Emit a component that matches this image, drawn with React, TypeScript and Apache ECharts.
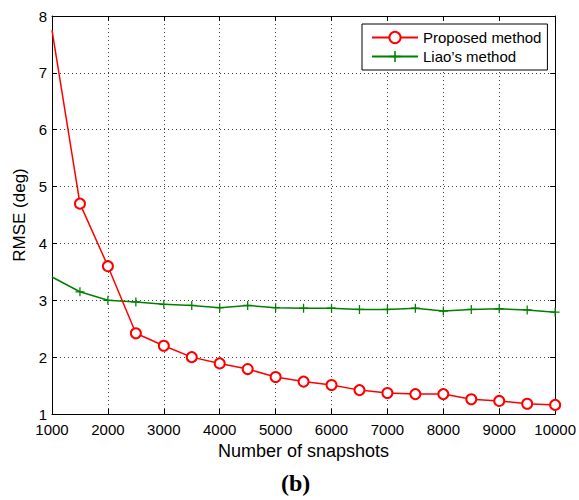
import React, { useEffect, useRef } from "react";
import * as echarts from "echarts";

const snapshots = [1000, 1500, 2000, 2500, 3000, 3500, 4000, 4500, 5000, 5500, 6000, 6500, 7000, 7500, 8000, 8500, 9000, 9500, 10000];
const proposed = [7.75, 4.7, 3.6, 2.42, 2.2, 2.0, 1.89, 1.79, 1.65, 1.57, 1.51, 1.42, 1.37, 1.35, 1.35, 1.26, 1.23, 1.18, 1.16];
const liao = [3.41, 3.15, 3.0, 2.97, 2.93, 2.91, 2.87, 2.91, 2.87, 2.86, 2.86, 2.84, 2.84, 2.86, 2.81, 2.84, 2.85, 2.83, 2.79];
const seriesNames = ["Proposed method", "Liao\u2019s method"];
const xName = "Number of snapshots";
const yName = "RMSE (deg)";
const caption = "(b)";

const FONT = "'Liberation Sans', Arial, Helvetica, sans-serif";
const PLUS = "path://M0,4.3H4.3V0H5.7V4.3H10V5.7H5.7V10H4.3V5.7H0Z";

function toData(vals: number[]) {
  return vals.map((v, i) =>
    i === 0 ? { value: [snapshots[i], v], symbol: "none" } : { value: [snapshots[i], v] }
  );
}

export default function App() {
  const ref = useRef<HTMLDivElement>(null);
  useEffect(() => {
    const chart = echarts.init(ref.current!, null, { renderer: "svg" });
    const axisLine = { show: true, lineStyle: { color: "#000", width: 1 } };
    const tickIn = { show: true, inside: true, length: 5, lineStyle: { color: "#000" } };
    const split = { show: true, lineStyle: { color: "#444", width: 1, type: [1, 3] } };
    chart.setOption({
      animation: false,
      backgroundColor: "#fff",
      textStyle: { fontFamily: FONT },
      grid: { left: 52, right: 22, top: 16, bottom: 86, containLabel: false },
      legend: {
        data: seriesNames,
        orient: "vertical",
        left: 362,
        top: 24,
        padding: [6, 6, 6, 9],
        itemWidth: 46,
        itemHeight: 14,
        itemGap: 4,
        backgroundColor: "#fff",
        borderColor: "#000",
        borderWidth: 1,
        borderRadius: 0,
        textStyle: { fontSize: 15, color: "#000", fontFamily: FONT, padding: [0, 0, 0, 0] },
      },
      xAxis: [
        {
          type: "value",
          min: 1000,
          max: 10000,
          interval: 1000,
          axisLine,
          axisTick: tickIn,
          splitLine: split,
          axisLabel: {
            color: "#000",
            fontSize: 15,
            fontFamily: FONT,
            margin: 8,
            formatter: (v: number) => String(v),
          },
          name: xName,
          nameLocation: "middle",
          nameGap: 27,
          nameTextStyle: { color: "#000", fontSize: 18, fontFamily: FONT },
        },
        {
          type: "value",
          position: "top",
          min: 1000,
          max: 10000,
          interval: 1000,
          axisLine,
          axisTick: tickIn,
          splitLine: { show: false },
          axisLabel: { show: false },
        },
      ],
      yAxis: [
        {
          type: "value",
          min: 1,
          max: 8,
          interval: 1,
          axisLine,
          axisTick: tickIn,
          splitLine: split,
          axisLabel: { color: "#000", fontSize: 15, fontFamily: FONT, margin: 5 },
          name: yName,
          nameLocation: "middle",
          nameGap: 22,
          nameTextStyle: { color: "#000", fontSize: 17, fontFamily: FONT },
        },
        {
          type: "value",
          position: "right",
          min: 1,
          max: 8,
          interval: 1,
          axisLine,
          axisTick: tickIn,
          splitLine: { show: false },
          axisLabel: { show: false },
        },
      ],
      series: [
        {
          name: seriesNames[0],
          type: "line",
          data: toData(proposed),
          symbol: "emptyCircle",
          symbolSize: 10,
          showAllSymbol: true,
          clip: false,
          lineStyle: { color: "#ff0000", width: 1.5 },
          itemStyle: { color: "#ff0000", borderColor: "#ff0000", borderWidth: 1.5 },
          z: 3,
        },
        {
          name: seriesNames[1],
          type: "line",
          data: toData(liao),
          symbol: PLUS,
          symbolSize: 9,
          showAllSymbol: true,
          clip: false,
          lineStyle: { color: "#008000", width: 1.5 },
          itemStyle: { color: "#008000", borderWidth: 0 },
          z: 2,
        },
      ],
      graphic: [
        {
          type: "text",
          left: 281,
          top: 471,
          style: {
            text: caption,
            font: "bold 24px 'Liberation Serif', 'DejaVu Serif', serif",
            fill: "#000",
          },
        },
      ],
    });
    return () => chart.dispose();
  }, []);
  return <div ref={ref} style={{ width: 579, height: 500, position: "absolute", left: 0, top: 0 }} />;
}
